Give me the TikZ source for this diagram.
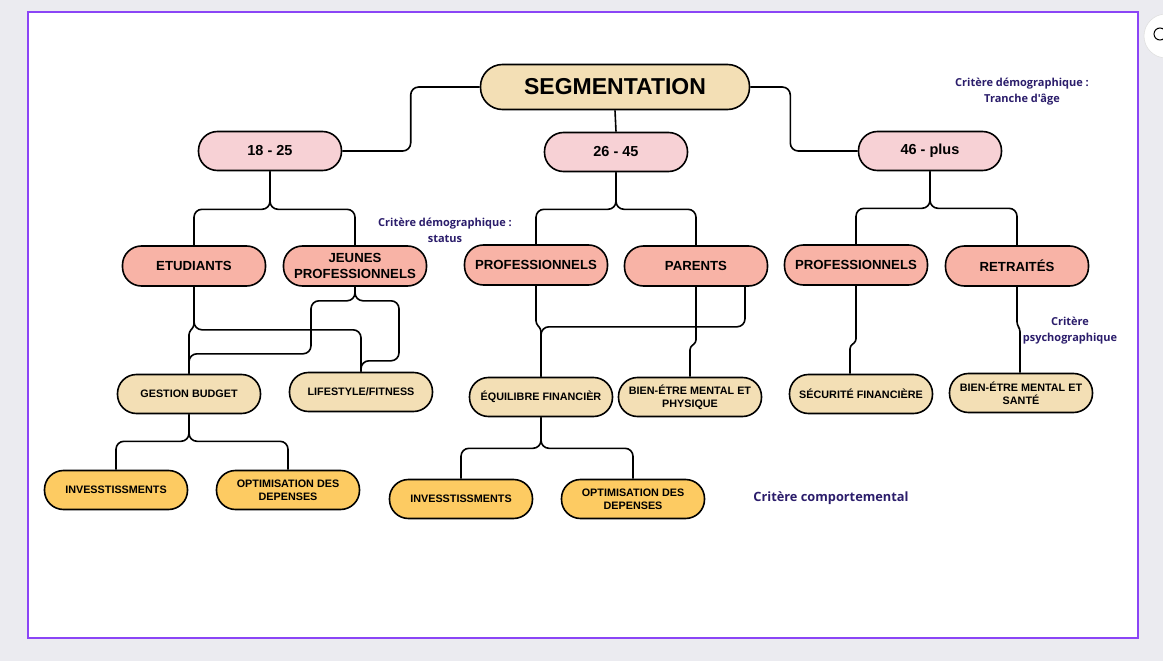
\documentclass[tikz,border=0pt]{standalone}
\usepackage{fontspec}
\setmainfont{Liberation Sans}
\newfontfamily\critfont{Open Sans}
\usetikzlibrary{positioning}
\definecolor{beige}{HTML}{F3DFB5}
\definecolor{agepink}{HTML}{F7D1D5}
\definecolor{salmon}{HTML}{F8B3A6}
\definecolor{gold}{HTML}{FDCB62}
\definecolor{navy}{HTML}{2B1D6B}
\definecolor{framepurple}{HTML}{8B45F6}
\definecolor{bggray}{HTML}{EBEBF0}

\tikzset{
  pill/.style={draw=black, line width=1.6pt, rounded corners=19pt, minimum width=143pt,
    minimum height=39pt, inner sep=1pt, align=center},
  rootbox/.style={pill, fill=beige, minimum width=269pt, minimum height=45pt,
    rounded corners=22pt, font=\bfseries\fontsize{23}{24}\selectfont},
  agebox/.style={pill, fill=agepink, font=\bfseries\fontsize{14.5}{16}\selectfont},
  groupbox/.style={pill, fill=salmon, minimum height=40pt, font=\bfseries\fontsize{13.2}{15.5}\selectfont},
  needbox/.style={pill, fill=beige, font=\bfseries\fontsize{10.8}{13}\selectfont},
  actbox/.style={pill, fill=gold, font=\bfseries\fontsize{10.8}{13}\selectfont},
  crit/.style={text=navy, align=center, font=\critfont\bfseries\fontsize{11}{16}\selectfont},
  link/.style={line width=1.6pt, rounded corners=8pt},
  jog/.style={line width=1.6pt, rounded corners=3pt},
}

\begin{document}
\begin{tikzpicture}[x=1pt, y=-1pt]
  % page and frame
  \fill[bggray] (0,0) rectangle (1163,661);
  \useasboundingbox (0,0) rectangle (1163,661);
  \filldraw[fill=white, draw=framepurple, line width=2pt] (28,12) rectangle (1138,638);
  \filldraw[fill=white, draw=black!12, line width=0.6pt] (1166,36) circle (22);
  \draw[line width=1pt] (1160,34) circle (6);

  % tree
  \node[rootbox] (seg) at (615,87) {SEGMENTATION};

  \node[agebox] (a18) at (270,151) {18 - 25};
  \node[agebox] (a26) at (616,152) {26 - 45};
  \node[agebox] (a46) at (930,151) {46 - plus};

  \node[groupbox] (etu) at (194,266) {ETUDIANTS};
  \node[groupbox] (jeu) at (355,266) {JEUNES\\PROFESSIONNELS};
  \node[groupbox] (pro1) at (536,265) {PROFESSIONNELS};
  \node[groupbox] (par) at (696,266) {PARENTS};
  \node[groupbox] (pro2) at (856,265) {PROFESSIONNELS};
  \node[groupbox] (ret) at (1017,266) {RETRAITÉS};

  \node[needbox] (ges) at (189,394) {GESTION BUDGET};
  \node[needbox] (life) at (361,392) {LIFESTYLE/FITNESS};
  \node[needbox] (equ) at (541,397) {ÉQUILIBRE FINANCIÈR};
  \node[needbox] (bien1) at (690,397) {BIEN-ÉTRE MENTAL ET\\PHYSIQUE};
  \node[needbox] (secu) at (861,394) {SÉCURITÉ FINANCIÈRE};
  \node[needbox] (bien2) at (1021,393) {BIEN-ÉTRE MENTAL ET\\SANTÉ};

  \node[actbox] (inv1) at (116,490) {INVESSTISSMENTS};
  \node[actbox] (opt1) at (288,490) {OPTIMISATION DES\\DEPENSES};
  \node[actbox] (inv2) at (461,499) {INVESSTISSMENTS};
  \node[actbox] (opt2) at (633,499) {OPTIMISATION DES\\DEPENSES};

  % criteria
  \node[crit] (c1) at (1022,92) {Critère démographique :\\Tranche d'âge};
  \node[crit] (c2) at (445,230) {Critère démographique :\\status};
  \node[crit] (c3) at (1070,331) {Critère\\psychographique};
  \node[crit, font=\critfont\bfseries\fontsize{12.8}{14}\selectfont] (c4) at (831,498) {Critère comportemental};

  % connectors
  \draw[link] (seg.west) -- ++(-69,0) |- (a18.east);
  \draw[link] (seg.south) -- (a26.north);
  \draw[link] (seg.east) -- ++(40,0) |- (a46.west);

  \draw[link] (a18.south) -- ++(0,38) -| (etu.north);
  \draw[link] (a18.south) -- ++(0,38) -| (jeu.north);
  \draw[link] (a26.south) -- ++(0,37) -| (pro1.north);
  \draw[link] (a26.south) -- ++(0,37) -| (par.north);
  \draw[link] (a46.south) -- ++(0,37) -| (pro2.north);
  \draw[link] (a46.south) -- ++(0,37) -| (ret.north);

  \draw[jog] (etu.south) -- ++(0,40) -- ++(-5,5) -- (ges.north);
  \draw[link] (etu.south) -- ++(0,43) -| (life.north);
  \draw[link] (jeu.south) -- ++(0,14) -| ++(-44,53) -| (ges.north);
  \draw[link] (jeu.south) -- ++(0,14) -| ++(44,60) -| (life.north);

  \draw[jog] (pro1.south) -- ++(0,38) -- ++(5,5) -- (equ.north);
  \draw[link] ([xshift=49pt]par.south) -- ++(0,40) -| (equ.north);
  \draw[jog] (par.south) -- ++(0,56) -- ++(-6,4) -- (bien1.north);
  \draw[jog] (pro2.south) -- ++(0,56) -- ++(-6,4) -- ([xshift=-11pt]secu.north);
  \draw[jog] (ret.south) -- ++(0,38) -- ++(3,4) -- ([xshift=-1pt]bien2.north);

  \draw[link] (ges.south) -- ++(0,27) -| (inv1.north);
  \draw[link] (ges.south) -- ++(0,27) -| (opt1.north);
  \draw[link] (equ.south) -- ++(0,31) -| (inv2.north);
  \draw[link] (equ.south) -- ++(0,31) -| (opt2.north);
\end{tikzpicture}
\end{document}
